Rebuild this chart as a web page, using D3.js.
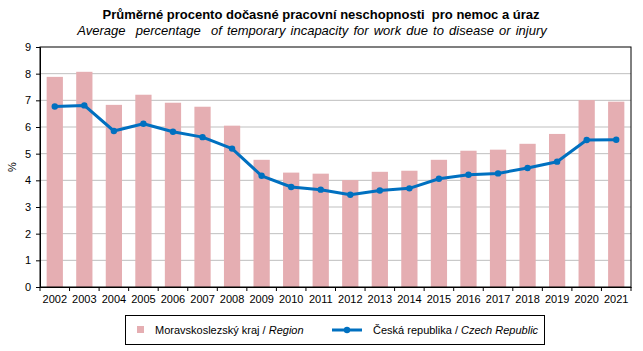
<!DOCTYPE html>
<html><head><meta charset="utf-8">
<script src="https://cdn.jsdelivr.net/npm/d3@7"></script>
<style>body{margin:0;background:#fff}svg{display:block;font-family:Arial,"Liberation Sans",sans-serif}.pre{white-space:pre}</style>
</head><body><svg id="c" width="643" height="351"></svg>
<script>
const years = ["2002","2003","2004","2005","2006","2007","2008","2009","2010","2011","2012","2013","2014","2015","2016","2017","2018","2019","2020","2021"];
const regionValues = [7.88,8.07,6.83,7.21,6.91,6.76,6.05,4.77,4.29,4.25,4.01,4.32,4.36,4.77,5.11,5.15,5.37,5.74,7.01,6.95];
const czValues = [6.77,6.81,5.85,6.12,5.82,5.62,5.19,4.17,3.75,3.65,3.46,3.62,3.70,4.06,4.21,4.26,4.46,4.70,5.51,5.52];
const yTicks = [0,1,2,3,4,5,6,7,8,9];

const svg = d3.select("#c");
const L = 40, R = 631, T = 47, B = 287;
const x = d3.scaleBand().domain(years).range([L, R]).paddingInner(0.45).paddingOuter(0.225);
const xb = d3.scaleBand().domain(years).range([L, R]);
const y = d3.scaleLinear().domain([0, 9]).range([B, T]);
const barColor = "#e5aeb2", lineColor = "#0070c0";

// titles
svg.append("text").attr("class", "pre").attr("x", 321).attr("y", 19).attr("text-anchor", "middle")
  .attr("font-size", 13).attr("font-weight", "bold").text("Průměrné procento dočasné pracovní neschopnosti  pro nemoc a úraz");
svg.append("text").attr("class", "pre").attr("x", 312).attr("y", 35).attr("text-anchor", "middle")
  .attr("font-size", 13).attr("word-spacing", 1.5).attr("font-style", "italic")
  .text("Average  percentage  of temporary incapacity for work due to disease or injury");

// gridlines
svg.append("g").selectAll("line").data(yTicks.filter(d => d > 0 && d < 9)).join("line")
  .attr("x1", L).attr("x2", R).attr("y1", d => y(d)).attr("y2", d => y(d))
  .attr("stroke", "#bfbfbf").attr("stroke-width", 1);

// bars
svg.append("g").selectAll("rect").data(years).join("rect")
  .attr("x", d => x(d)).attr("width", x.bandwidth())
  .attr("y", (d, i) => y(regionValues[i])).attr("height", (d, i) => B - y(regionValues[i]))
  .attr("fill", barColor);

// plot border
svg.append("rect").attr("x", L).attr("y", T).attr("width", R - L).attr("height", B - T)
  .attr("fill", "none").attr("stroke", "#000").attr("stroke-width", 1);

// y axis
const ya = svg.append("g").attr("transform", `translate(${L},0)`)
  .call(d3.axisLeft(y).tickValues(yTicks).tickSize(4).tickPadding(5).tickFormat(d3.format("d")));
ya.select(".domain").attr("stroke", "#000");
ya.selectAll("line").attr("stroke", "#000");
ya.selectAll("text").attr("font-size", 11).attr("font-family", "Arial, Liberation Sans, sans-serif").attr("fill", "#000");

// x axis
const xa = svg.append("g").attr("transform", `translate(0,${B})`)
  .call(d3.axisBottom(xb).tickSize(0).tickPadding(8));
xa.select(".domain").attr("stroke", "#000");
xa.selectAll("text").attr("font-size", 11).attr("font-family", "Arial, Liberation Sans, sans-serif").attr("fill", "#000");
svg.append("g").selectAll("line").data(years.concat(["end"])).join("line")
  .attr("x1", (d, i) => L + i * xb.step()).attr("x2", (d, i) => L + i * xb.step())
  .attr("y1", B).attr("y2", B + 4).attr("stroke", "#000");

// y label
svg.append("text").attr("transform", "translate(16,167) rotate(-90)").attr("text-anchor", "middle")
  .attr("font-size", 11).text("%");

// line
const line = d3.line().x((d, i) => xb(years[i]) + xb.bandwidth() / 2).y(d => y(d));
svg.append("path").datum(czValues).attr("d", line).attr("fill", "none")
  .attr("stroke", lineColor).attr("stroke-width", 3).attr("stroke-linejoin", "round");
svg.append("g").selectAll("circle").data(czValues).join("circle")
  .attr("cx", (d, i) => xb(years[i]) + xb.bandwidth() / 2).attr("cy", d => y(d)).attr("r", 3.2)
  .attr("fill", lineColor);

// legend
svg.append("rect").attr("x", 125.5).attr("y", 315.5).attr("width", 419).attr("height", 29)
  .attr("fill", "#fff").attr("stroke", "#000");
svg.append("rect").attr("x", 137).attr("y", 326).attr("width", 7).attr("height", 7).attr("fill", barColor);
const t1 = svg.append("text").attr("x", 155).attr("y", 334).attr("font-size", 11);
t1.append("tspan").text("Moravskoslezský kraj / ");
t1.append("tspan").attr("font-style", "italic").text("Region");
svg.append("line").attr("x1", 332).attr("x2", 362).attr("y1", 330).attr("y2", 330)
  .attr("stroke", lineColor).attr("stroke-width", 3);
svg.append("circle").attr("cx", 347).attr("cy", 330).attr("r", 3.2).attr("fill", lineColor);
const t2 = svg.append("text").attr("x", 373).attr("y", 334).attr("font-size", 11);
t2.append("tspan").text("Česká republika / ");
t2.append("tspan").attr("font-style", "italic").text("Czech Republic");
</script></body></html>
